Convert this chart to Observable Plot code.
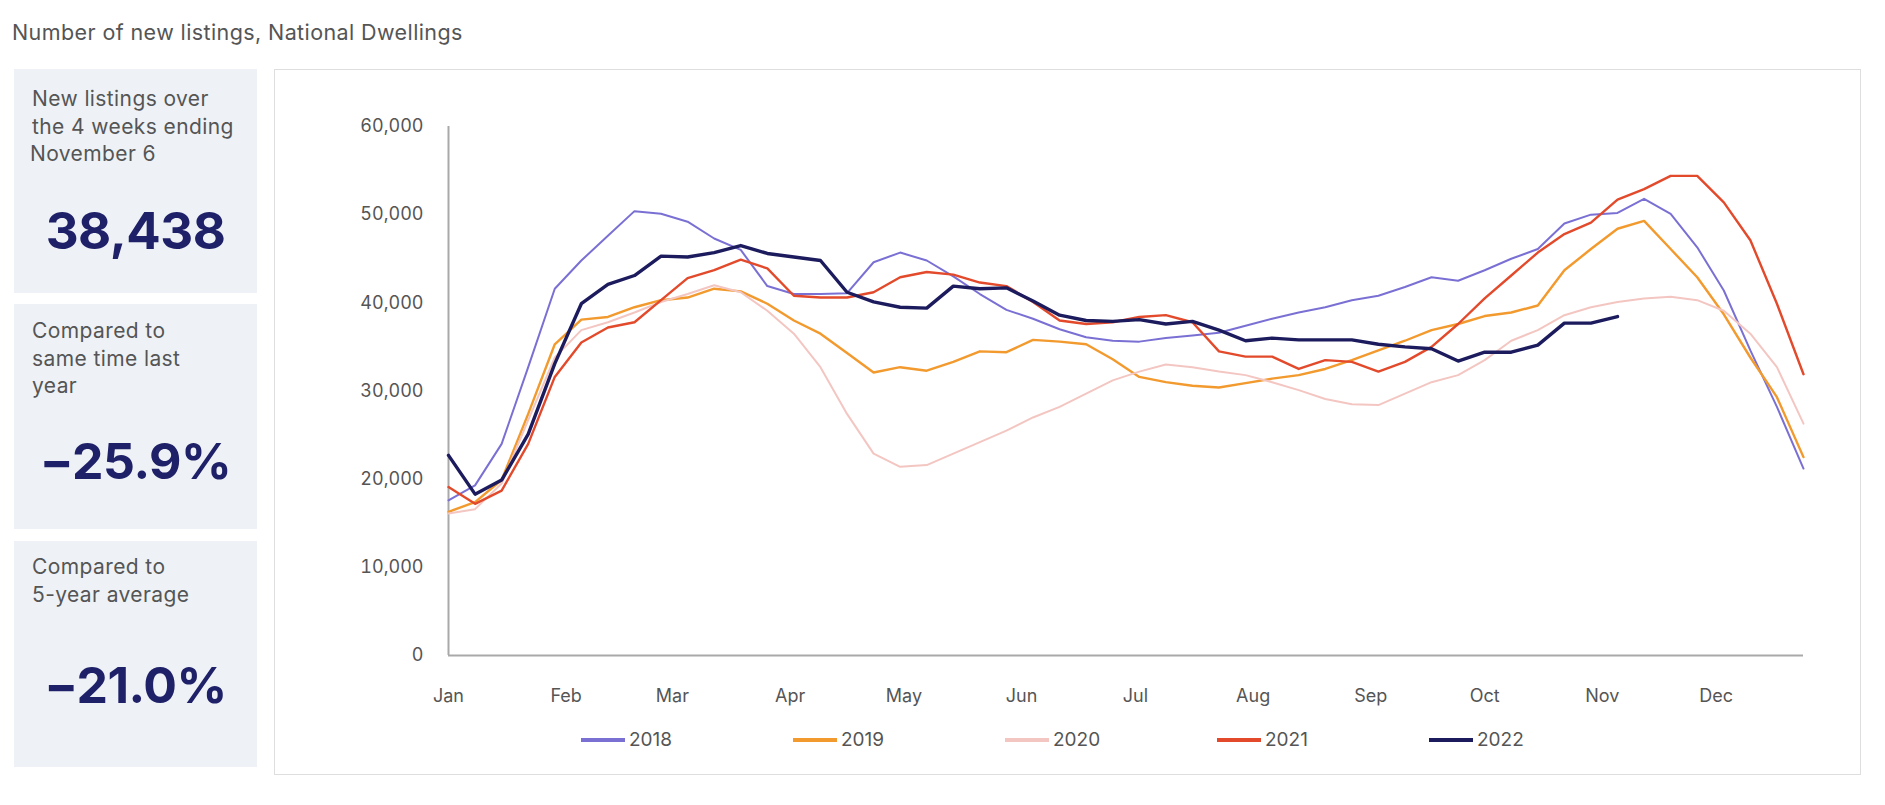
<!DOCTYPE html>
<html>
<head>
<meta charset="utf-8">
<script src="https://cdn.jsdelivr.net/npm/d3@7"></script>
<script src="https://cdn.jsdelivr.net/npm/@observablehq/plot@0.6"></script>
<style>
  html, body { margin:0; padding:0; background:#fff; }
  body { width:1885px; height:805px; position:relative; font-family:Inter, "Noto Sans", sans-serif; color:#555; overflow:hidden; }
  .title { position:absolute; left:12px; top:20px; font-size:21.5px; line-height:24px; letter-spacing:0.4px; color:#555; }
  .panel { position:absolute; left:14px; width:243px; background:#eef2f6; }
  .lbl { position:absolute; left:18px; font-size:21px; line-height:27.5px; letter-spacing:0.4px; color:#555; }
  .big { position:absolute; left:0; width:100%; text-align:center; line-height:54px; font-weight:700; color:#1f2168; letter-spacing:-0.5px; }
  #box { position:absolute; left:274px; top:69px; width:1587px; height:706px; border:1px solid #dedede; box-sizing:border-box; background:#fff; }
  #chart { position:absolute; left:0; top:0; }
  #legend { position:absolute; left:0; top:728px; width:1885px; height:24px; }
  .item { position:absolute; top:0; display:flex; align-items:center; font-size:19px; line-height:24px; color:#555; }
  .sw { display:inline-block; width:44px; height:4px; margin-right:4px; }
</style>
</head>
<body>
<div class="title">Number of new listings, National Dwellings</div>

<div class="panel" style="top:69px;height:224px;">
  <div class="lbl" style="top:16px;">New listings over<br>the 4 weeks ending<br><span style="margin-left:-2px">November 6</span></div>
  <div class="big" style="top:135px;font-size:51px;">38,438</div>
</div>
<div class="panel" style="top:304px;height:225px;">
  <div class="lbl" style="top:13px;">Compared to<br>same time last<br>year</div>
  <div class="big" style="top:130px;font-size:50px;">−25.9%</div>
</div>
<div class="panel" style="top:541px;height:226px;">
  <div class="lbl" style="top:12px;">Compared to<br>5-year average</div>
  <div class="big" style="top:117px;font-size:50px;">−21.0%</div>
</div>

<div id="box"><div id="chart"></div></div>
<div id="legend"></div>

<script>
// ---- data ----
const years = ["2018", "2019", "2020", "2021", "2022"];
const colors = ["#7a70d4", "#f29a2e", "#f3c6c2", "#e24a2b", "#1c1b5e"];
const widths = [2, 2.4, 2, 2.4, 3.4];
const monthLabels = ["Jan","Feb","Mar","Apr","May","Jun","Jul","Aug","Sep","Oct","Nov","Dec"];
const yTicks = [0, 10000, 20000, 30000, 40000, 50000, 60000];

const v2018 = [17600, 19300, 24000, 32700, 41600, 44800, 47600, 50400, 50100, 49200, 47300, 46000, 41900, 41000,
  41000, 41100, 44600, 45700, 44800, 43000, 41000, 39200, 38200, 37000, 36100, 35700, 35600,
  36000, 36300, 36600, 37400, 38200, 38900, 39500, 40300, 40800, 41800, 42900, 42500, 43700,
  45000, 46100, 49000, 50000, 50200, 51800, 50100, 46300, 41400, 34600, 28200, 21200];
const v2019 = [16300, 17400, 19900, 27400, 35300, 38100, 38400, 39500, 40300, 40600, 41600, 41300, 39900, 38000,
  36500, 34300, 32100, 32700, 32300, 33300, 34500, 34400, 35800, 35600, 35300, 33600, 31600,
  31000, 30600, 30400, 30900, 31400, 31800, 32500, 33500, 34600, 35700, 36900, 37600, 38500,
  38900, 39700, 43700, 46100, 48400, 49300, 46100, 42900, 38700, 33800, 29300, 22500];
const v2020 = [16100, 16600, 19500, 26700, 33800, 36900, 37800, 38900, 40100, 41000, 42000, 41200, 39100, 36500,
  32700, 27400, 22900, 21400, 21600, 22900, 24200, 25500, 27000, 28200, 29700, 31200, 32200,
  33000, 32700, 32200, 31800, 31000, 30100, 29100, 28500, 28400, 29700, 31000, 31800, 33500,
  35700, 36900, 38600, 39500, 40100, 40500, 40700, 40300, 39100, 36500, 32700, 26300];
const v2021 = [19100, 17200, 18700, 24000, 31600, 35500, 37200, 37800, 40300, 42800, 43700, 44900, 43900, 40800,
  40600, 40600, 41200, 42900, 43500, 43200, 42300, 41900, 40100, 38000, 37600, 37800, 38400,
  38600, 37800, 34500, 33900, 33900, 32500, 33500, 33300, 32200, 33300, 35000, 37600, 40500,
  43100, 45700, 47800, 49100, 51700, 52900, 54400, 54400, 51400, 47100, 39900, 31900];
const v2022 = [22700, 18300, 19900, 25100, 33100, 39900, 42100, 43100, 45300, 45200, 45700, 46500, 45600, 45200,
  44800, 41200, 40100, 39500, 39400, 41900, 41600, 41700, 40200, 38600, 38000, 37900, 38100,
  37600, 37900, 36900, 35700, 36000, 35800, 35800, 35800, 35300, 35000, 34800, 33400, 34400,
  34400, 35200, 37700, 37700, 38438];

const series = [v2018, v2019, v2020, v2021, v2022];

// weekly dates in a reference year
const weekDate = i => new Date(Date.UTC(2022, 0, 1 + 7 * i));
const rows = [];
series.forEach((vals, s) => vals.forEach((v, i) => rows.push({year: years[s], date: weekDate(i), value: v})));
const monthDates = monthLabels.map((m, k) => new Date(Date.UTC(2022, k, 1)));
const d0 = weekDate(0), dN = weekDate(51);

const chart = Plot.plot({
  width: 1585,
  height: 650,
  marginLeft: 173,
  marginRight: 57,
  marginTop: 56,
  marginBottom: 65,
  style: {fontFamily: "Inter, 'Noto Sans', sans-serif", fontSize: "18px", color: "#555", background: "transparent"},
  x: {type: "utc", domain: [d0, dN]},
  y: {domain: [0, 60000]},
  color: {domain: years, range: colors},
  marks: [
    Plot.axisY({ticks: yTicks, tickSize: 0, tickPadding: 25, tickFormat: d3.format(","), label: null}),
    Plot.axisX({ticks: monthDates, tickSize: 0, tickPadding: 34, tickFormat: d => monthLabels[d.getUTCMonth()], label: null}),
    Plot.ruleX([d0], {y1: 0, y2: 60000, stroke: "#a9a9a9", strokeWidth: 2}),
    Plot.ruleY([0], {stroke: "#a9a9a9", strokeWidth: 2}),
    ...years.map((yr, s) => Plot.lineY(rows.filter(r => r.year === yr), {
      x: "date", y: "value", stroke: "year", strokeWidth: widths[s], strokeLinejoin: "round", strokeLinecap: "round"
    }))
  ]
});
document.getElementById("chart").appendChild(chart);

// legend
const legend = document.getElementById("legend");
years.forEach((yr, s) => {
  const it = document.createElement("div");
  it.className = "item";
  it.style.left = (581 + s * 212) + "px";
  const sw = document.createElement("span");
  sw.className = "sw";
  sw.style.background = colors[s];
  const tx = document.createElement("span");
  tx.textContent = yr;
  it.appendChild(sw);
  it.appendChild(tx);
  legend.appendChild(it);
});
</script>
</body>
</html>
